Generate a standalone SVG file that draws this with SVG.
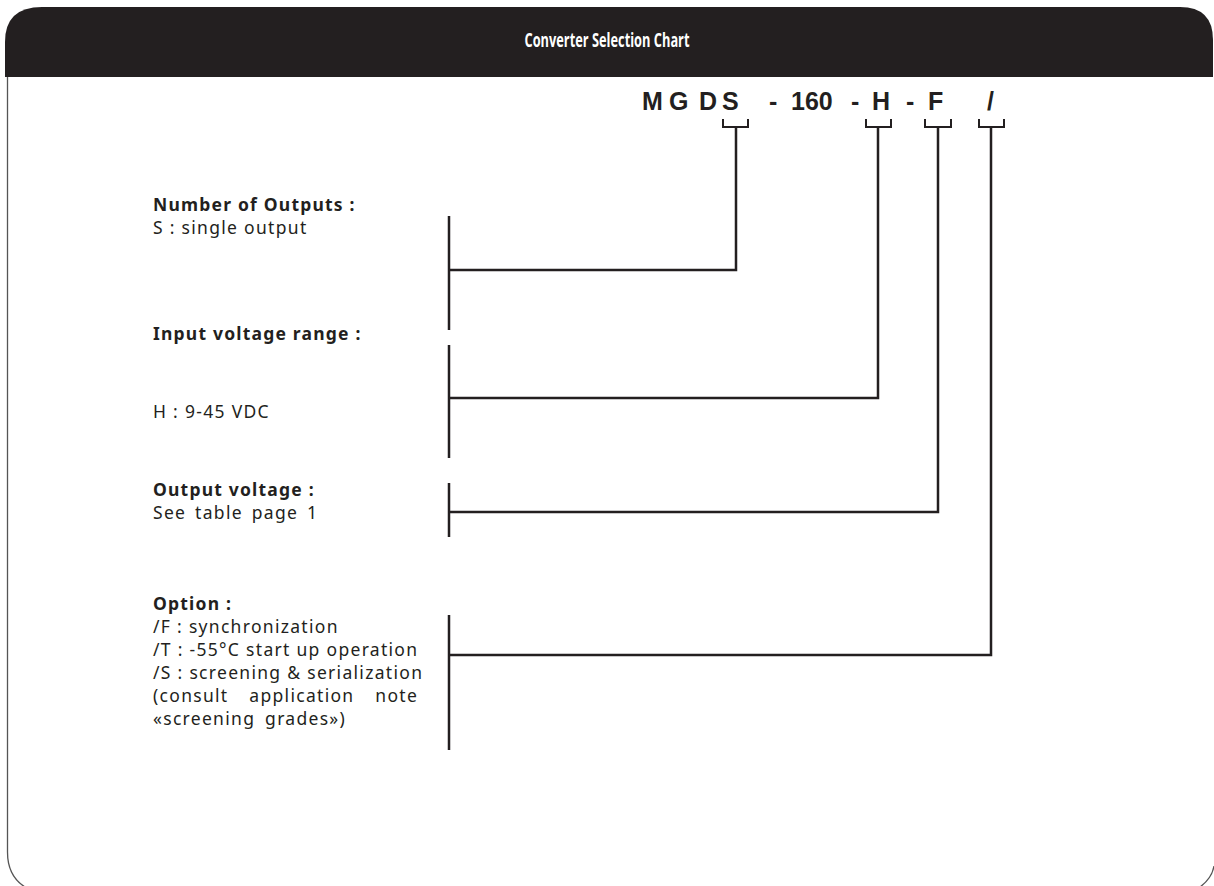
<svg xmlns="http://www.w3.org/2000/svg" width="1214" height="886" viewBox="0 0 1214 886">
<style>
.title{font-family:"Open Sans","DejaVu Sans",sans-serif;font-weight:bold;font-size:19px;fill:#ffffff}
.code{font-family:"Liberation Sans",Arial,sans-serif;font-weight:bold;font-size:25px;fill:#231f20}
.lbl{font-family:"Noto Sans","DejaVu Sans",sans-serif;font-weight:bold;font-size:17.5px;letter-spacing:1.2px;fill:#231f20}
.txt{font-family:"Noto Sans","DejaVu Sans",sans-serif;font-size:17.5px;letter-spacing:1.3px;fill:#231f20}
.ln{stroke:#231f20;stroke-width:2.5;fill:none}
.br{stroke:#231f20;stroke-width:2;fill:none}
</style>
<g id="frame">
<path d="M7.5,77 L7.5,852 Q7.5,876 25,887" stroke="#555" stroke-width="1.3" fill="none"/>
<path d="M1214,866 Q1212,878 1200,887" stroke="#555" stroke-width="1.3" fill="none"/>
<path d="M5,77 L5,42 Q5,7 42,7 L1180,7 Q1213,7 1213,40 L1213,77 Z" fill="#231f20"/>
<text class="title" x="607" y="47" text-anchor="middle" textLength="165" lengthAdjust="spacingAndGlyphs">Converter Selection Chart</text>
</g>
<g id="code">
<text class="code" y="110"><tspan x="642">M</tspan><tspan x="669">G</tspan><tspan x="699">D</tspan><tspan x="722">S</tspan><tspan x="769">-</tspan><tspan x="791">160</tspan><tspan x="851">-</tspan><tspan x="872">H</tspan><tspan x="906">-</tspan><tspan x="928">F</tspan><tspan x="987">/</tspan></text>
</g>
<g id="n-outputs">
<text class="lbl" x="153" y="211">Number of Outputs :</text>
<text class="txt" x="153" y="234">S : single output</text>
</g>
<g id="n-input">
<text class="lbl" x="153" y="340">Input voltage range :</text>
<text class="txt" x="153" y="418">H : 9-45 VDC</text>
</g>
<g id="n-outv">
<text class="lbl" x="153" y="496">Output voltage :</text>
<text class="txt" x="153" y="519" word-spacing="3">See table page 1</text>
</g>
<g id="n-option">
<text class="lbl" x="153" y="610">Option :</text>
<text class="txt" x="153" y="633">/F : synchronization</text>
<text class="txt" x="153" y="656">/T : -55°C start up operation</text>
<text class="txt" x="153" y="679">/S : screening &amp; serialization</text>
<text class="txt" x="153" y="702" word-spacing="15">(consult application note</text>
<text class="txt" x="153" y="725" word-spacing="4">«screening grades»)</text>
</g>
<g id="connectors">
<path class="br" d="M723,119 V127 H748 V119"/>
<path class="br" d="M866,119 V127 H891 V119"/>
<path class="br" d="M925,119 V127 H951 V119"/>
<path class="br" d="M979,119 V127 H1004 V119"/>
<path class="ln" d="M449,216 V330 M449,270 H736 V127"/>
<path class="ln" d="M449,345 V458 M449,398 H878 V127"/>
<path class="ln" d="M449,483 V537 M449,512 H938 V127"/>
<path class="ln" d="M449,615 V750 M449,655 H991 V127"/>
</g>
</svg>
